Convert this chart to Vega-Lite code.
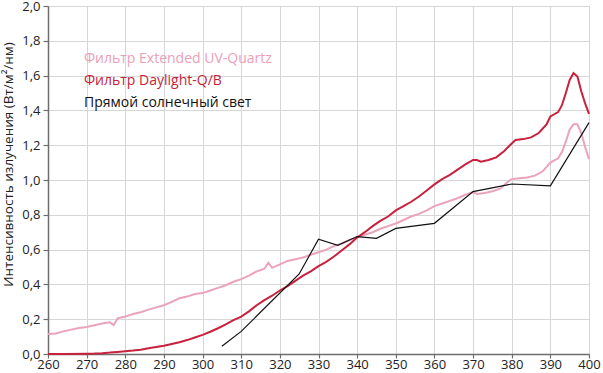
{
  "$schema": "https://vega.github.io/schema/vega-lite/v6.json",
  "width": 541,
  "height": 348,
  "autosize": {"type": "none"},
  "padding": {"left": 48, "top": 6, "right": 14, "bottom": 19},
  "background": "white",
  "config": {
    "font": "Open Sans",
    "view": {"stroke": "#b8b8b8", "strokeWidth": 1},
    "axis": {
      "gridColor": "#d6d6d6",
      "gridWidth": 1,
      "domainColor": "#6e6e6e",
      "domainWidth": 1.5,
      "tickColor": "#6e6e6e",
      "tickWidth": 1.2,
      "tickSize": 5,
      "labelFont": "Open Sans",
      "labelFontSize": 13,
      "labelColor": "#222222",
      "titleFont": "Open Sans",
      "titleFontSize": 13.5,
      "titleFontWeight": "normal",
      "titleColor": "#222222"
    }
  },
  "datasets": {
    "pink": [
      {"wl": 260, "v": 0.115}, {"wl": 262, "v": 0.118}, {"wl": 264, "v": 0.13}, {"wl": 266, "v": 0.14}, {"wl": 268, "v": 0.15},
      {"wl": 270, "v": 0.155}, {"wl": 272, "v": 0.165}, {"wl": 274, "v": 0.175}, {"wl": 276, "v": 0.182}, {"wl": 277, "v": 0.166},
      {"wl": 278, "v": 0.205}, {"wl": 280, "v": 0.215}, {"wl": 282, "v": 0.23}, {"wl": 284, "v": 0.24}, {"wl": 286, "v": 0.255},
      {"wl": 288, "v": 0.268}, {"wl": 290, "v": 0.28}, {"wl": 292, "v": 0.3}, {"wl": 294, "v": 0.32}, {"wl": 296, "v": 0.33},
      {"wl": 298, "v": 0.345}, {"wl": 300, "v": 0.35}, {"wl": 302, "v": 0.365}, {"wl": 304, "v": 0.38}, {"wl": 306, "v": 0.395},
      {"wl": 308, "v": 0.415}, {"wl": 310, "v": 0.43}, {"wl": 312, "v": 0.45}, {"wl": 314, "v": 0.475}, {"wl": 316, "v": 0.49},
      {"wl": 317, "v": 0.525}, {"wl": 318, "v": 0.495}, {"wl": 320, "v": 0.515}, {"wl": 322, "v": 0.535}, {"wl": 324, "v": 0.545},
      {"wl": 326, "v": 0.555}, {"wl": 328, "v": 0.57}, {"wl": 330, "v": 0.585}, {"wl": 332, "v": 0.6}, {"wl": 334, "v": 0.62},
      {"wl": 336, "v": 0.635}, {"wl": 338, "v": 0.655}, {"wl": 340, "v": 0.67}, {"wl": 342, "v": 0.685}, {"wl": 344, "v": 0.7},
      {"wl": 346, "v": 0.72}, {"wl": 348, "v": 0.735}, {"wl": 350, "v": 0.75}, {"wl": 352, "v": 0.77}, {"wl": 354, "v": 0.79},
      {"wl": 356, "v": 0.805}, {"wl": 358, "v": 0.825}, {"wl": 360, "v": 0.85}, {"wl": 362, "v": 0.865}, {"wl": 364, "v": 0.88},
      {"wl": 366, "v": 0.895}, {"wl": 368, "v": 0.915}, {"wl": 370, "v": 0.93}, {"wl": 371, "v": 0.92}, {"wl": 373, "v": 0.925},
      {"wl": 375, "v": 0.935}, {"wl": 377, "v": 0.95}, {"wl": 379, "v": 0.99}, {"wl": 380, "v": 1.005}, {"wl": 382, "v": 1.01},
      {"wl": 384, "v": 1.015}, {"wl": 386, "v": 1.025}, {"wl": 388, "v": 1.05}, {"wl": 390, "v": 1.1}, {"wl": 392, "v": 1.125},
      {"wl": 393, "v": 1.16}, {"wl": 394, "v": 1.22}, {"wl": 395, "v": 1.29}, {"wl": 396, "v": 1.32}, {"wl": 397, "v": 1.32},
      {"wl": 398, "v": 1.27}, {"wl": 399, "v": 1.19}, {"wl": 400, "v": 1.12}
    ],
    "red": [
      {"wl": 260, "v": 0.0}, {"wl": 265, "v": 0.0}, {"wl": 270, "v": 0.002}, {"wl": 272, "v": 0.003}, {"wl": 274, "v": 0.005},
      {"wl": 276, "v": 0.008}, {"wl": 278, "v": 0.012}, {"wl": 280, "v": 0.016}, {"wl": 282, "v": 0.02}, {"wl": 284, "v": 0.025},
      {"wl": 286, "v": 0.033}, {"wl": 288, "v": 0.04}, {"wl": 290, "v": 0.048}, {"wl": 292, "v": 0.058}, {"wl": 294, "v": 0.068},
      {"wl": 296, "v": 0.08}, {"wl": 298, "v": 0.095}, {"wl": 300, "v": 0.11}, {"wl": 302, "v": 0.128}, {"wl": 304, "v": 0.148},
      {"wl": 306, "v": 0.17}, {"wl": 308, "v": 0.195}, {"wl": 310, "v": 0.215}, {"wl": 312, "v": 0.245}, {"wl": 314, "v": 0.28},
      {"wl": 316, "v": 0.31}, {"wl": 318, "v": 0.335}, {"wl": 320, "v": 0.365}, {"wl": 322, "v": 0.39}, {"wl": 324, "v": 0.42},
      {"wl": 326, "v": 0.45}, {"wl": 328, "v": 0.475}, {"wl": 330, "v": 0.505}, {"wl": 332, "v": 0.53}, {"wl": 334, "v": 0.56},
      {"wl": 336, "v": 0.595}, {"wl": 338, "v": 0.63}, {"wl": 340, "v": 0.67}, {"wl": 342, "v": 0.7}, {"wl": 344, "v": 0.735},
      {"wl": 346, "v": 0.765}, {"wl": 348, "v": 0.79}, {"wl": 350, "v": 0.825}, {"wl": 352, "v": 0.85}, {"wl": 354, "v": 0.875},
      {"wl": 356, "v": 0.905}, {"wl": 358, "v": 0.94}, {"wl": 360, "v": 0.975}, {"wl": 362, "v": 1.005}, {"wl": 364, "v": 1.03},
      {"wl": 366, "v": 1.06}, {"wl": 368, "v": 1.09}, {"wl": 370, "v": 1.115}, {"wl": 371, "v": 1.115}, {"wl": 372, "v": 1.105},
      {"wl": 374, "v": 1.115}, {"wl": 376, "v": 1.13}, {"wl": 378, "v": 1.165}, {"wl": 380, "v": 1.21}, {"wl": 381, "v": 1.23},
      {"wl": 383, "v": 1.235}, {"wl": 385, "v": 1.245}, {"wl": 387, "v": 1.27}, {"wl": 389, "v": 1.32}, {"wl": 390, "v": 1.365},
      {"wl": 392, "v": 1.39}, {"wl": 393, "v": 1.43}, {"wl": 394, "v": 1.5}, {"wl": 395, "v": 1.575}, {"wl": 396, "v": 1.615},
      {"wl": 397, "v": 1.595}, {"wl": 398, "v": 1.51}, {"wl": 399, "v": 1.44}, {"wl": 400, "v": 1.38}
    ],
    "sun": [
      {"wl": 305, "v": 0.045}, {"wl": 310, "v": 0.13}, {"wl": 325, "v": 0.46}, {"wl": 330, "v": 0.66},
      {"wl": 335, "v": 0.625}, {"wl": 340, "v": 0.675}, {"wl": 345, "v": 0.665}, {"wl": 350, "v": 0.722},
      {"wl": 360, "v": 0.751}, {"wl": 370, "v": 0.933}, {"wl": 380, "v": 0.977}, {"wl": 390, "v": 0.966},
      {"wl": 400, "v": 1.33}
    ]
  },
  "layer": [
    {
      "data": {"name": "pink"},
      "mark": {"type": "line", "color": "#eba3ba", "strokeWidth": 2},
      "encoding": {
        "x": {
          "field": "wl", "type": "quantitative",
          "scale": {"domain": [260, 400], "nice": false, "zero": false},
          "axis": {"title": null, "values": [260, 270, 280, 290, 300, 310, 320, 330, 340, 350, 360, 370, 380, 390, 400], "labelPadding": 0, "tickSize": 4, "labelFlush": false, "labelOverlap": false}
        },
        "y": {
          "field": "v", "type": "quantitative",
          "scale": {"domain": [0, 2], "nice": false},
          "axis": {
            "title": "Интенсивность излучения (Вт/м²/нм)",
            "values": [0, 0.2, 0.4, 0.6, 0.8, 1.0, 1.2, 1.4, 1.6, 1.8, 2.0],
            "labelExpr": "replace(format(datum.value, '.1f'), '.', ',')",
            "labelPadding": 3,
            "titlePadding": 6,
            "titleY": 158,
            "labelFlush": false,
            "labelOverlap": false
          }
        }
      }
    },
    {
      "data": {"name": "red"},
      "mark": {"type": "line", "color": "#c8213e", "strokeWidth": 2},
      "encoding": {
        "x": {"field": "wl", "type": "quantitative", "axis": {"title": null, "values": [260, 270, 280, 290, 300, 310, 320, 330, 340, 350, 360, 370, 380, 390, 400], "labelPadding": 0, "tickSize": 4, "labelFlush": false, "labelOverlap": false}},
        "y": {"field": "v", "type": "quantitative", "axis": {"title": "Интенсивность излучения (Вт/м²/нм)", "values": [0, 0.2, 0.4, 0.6, 0.8, 1.0, 1.2, 1.4, 1.6, 1.8, 2.0], "labelExpr": "replace(format(datum.value, '.1f'), '.', ',')", "labelPadding": 3, "titlePadding": 6, "titleY": 158, "labelFlush": false, "labelOverlap": false}}
      }
    },
    {
      "data": {"name": "sun"},
      "mark": {"type": "line", "color": "#111111", "strokeWidth": 1.2},
      "encoding": {
        "x": {"field": "wl", "type": "quantitative", "axis": {"title": null, "values": [260, 270, 280, 290, 300, 310, 320, 330, 340, 350, 360, 370, 380, 390, 400], "labelPadding": 0, "tickSize": 4, "labelFlush": false, "labelOverlap": false}},
        "y": {"field": "v", "type": "quantitative", "axis": {"title": "Интенсивность излучения (Вт/м²/нм)", "values": [0, 0.2, 0.4, 0.6, 0.8, 1.0, 1.2, 1.4, 1.6, 1.8, 2.0], "labelExpr": "replace(format(datum.value, '.1f'), '.', ',')", "labelPadding": 3, "titlePadding": 6, "titleY": 158, "labelFlush": false, "labelOverlap": false}}
      }
    },
    {
      "data": {"values": [{"label": "Фильтр Extended UV-Quartz"}]},
      "mark": {"type": "text", "align": "left", "baseline": "alphabetic", "fontSize": 14, "color": "#eba0b8"},
      "encoding": {
        "x": {"datum": 269.3, "type": "quantitative", "axis": {"title": null, "values": [260, 270, 280, 290, 300, 310, 320, 330, 340, 350, 360, 370, 380, 390, 400], "labelPadding": 0, "tickSize": 4, "labelFlush": false, "labelOverlap": false}},
        "y": {"datum": 1.671, "type": "quantitative", "axis": {"title": "Интенсивность излучения (Вт/м²/нм)", "values": [0, 0.2, 0.4, 0.6, 0.8, 1.0, 1.2, 1.4, 1.6, 1.8, 2.0], "labelExpr": "replace(format(datum.value, '.1f'), '.', ',')", "labelPadding": 3, "titlePadding": 6, "titleY": 158, "labelFlush": false, "labelOverlap": false}},
        "text": {"field": "label"}
      }
    },
    {
      "data": {"values": [{"label": "Фильтр Daylight-Q/B"}]},
      "mark": {"type": "text", "align": "left", "baseline": "alphabetic", "fontSize": 14, "color": "#c41e3a"},
      "encoding": {
        "x": {"datum": 269.3, "type": "quantitative", "axis": {"title": null, "values": [260, 270, 280, 290, 300, 310, 320, 330, 340, 350, 360, 370, 380, 390, 400], "labelPadding": 0, "tickSize": 4, "labelFlush": false, "labelOverlap": false}},
        "y": {"datum": 1.545, "type": "quantitative", "axis": {"title": "Интенсивность излучения (Вт/м²/нм)", "values": [0, 0.2, 0.4, 0.6, 0.8, 1.0, 1.2, 1.4, 1.6, 1.8, 2.0], "labelExpr": "replace(format(datum.value, '.1f'), '.', ',')", "labelPadding": 3, "titlePadding": 6, "titleY": 158, "labelFlush": false, "labelOverlap": false}},
        "text": {"field": "label"}
      }
    },
    {
      "data": {"values": [{"label": "Прямой солнечный свет"}]},
      "mark": {"type": "text", "align": "left", "baseline": "alphabetic", "fontSize": 14, "color": "#111111"},
      "encoding": {
        "x": {"datum": 269.3, "type": "quantitative", "axis": {"title": null, "values": [260, 270, 280, 290, 300, 310, 320, 330, 340, 350, 360, 370, 380, 390, 400], "labelPadding": 0, "tickSize": 4, "labelFlush": false, "labelOverlap": false}},
        "y": {"datum": 1.42, "type": "quantitative", "axis": {"title": "Интенсивность излучения (Вт/м²/нм)", "values": [0, 0.2, 0.4, 0.6, 0.8, 1.0, 1.2, 1.4, 1.6, 1.8, 2.0], "labelExpr": "replace(format(datum.value, '.1f'), '.', ',')", "labelPadding": 3, "titlePadding": 6, "titleY": 158, "labelFlush": false, "labelOverlap": false}},
        "text": {"field": "label"}
      }
    }
  ]
}
